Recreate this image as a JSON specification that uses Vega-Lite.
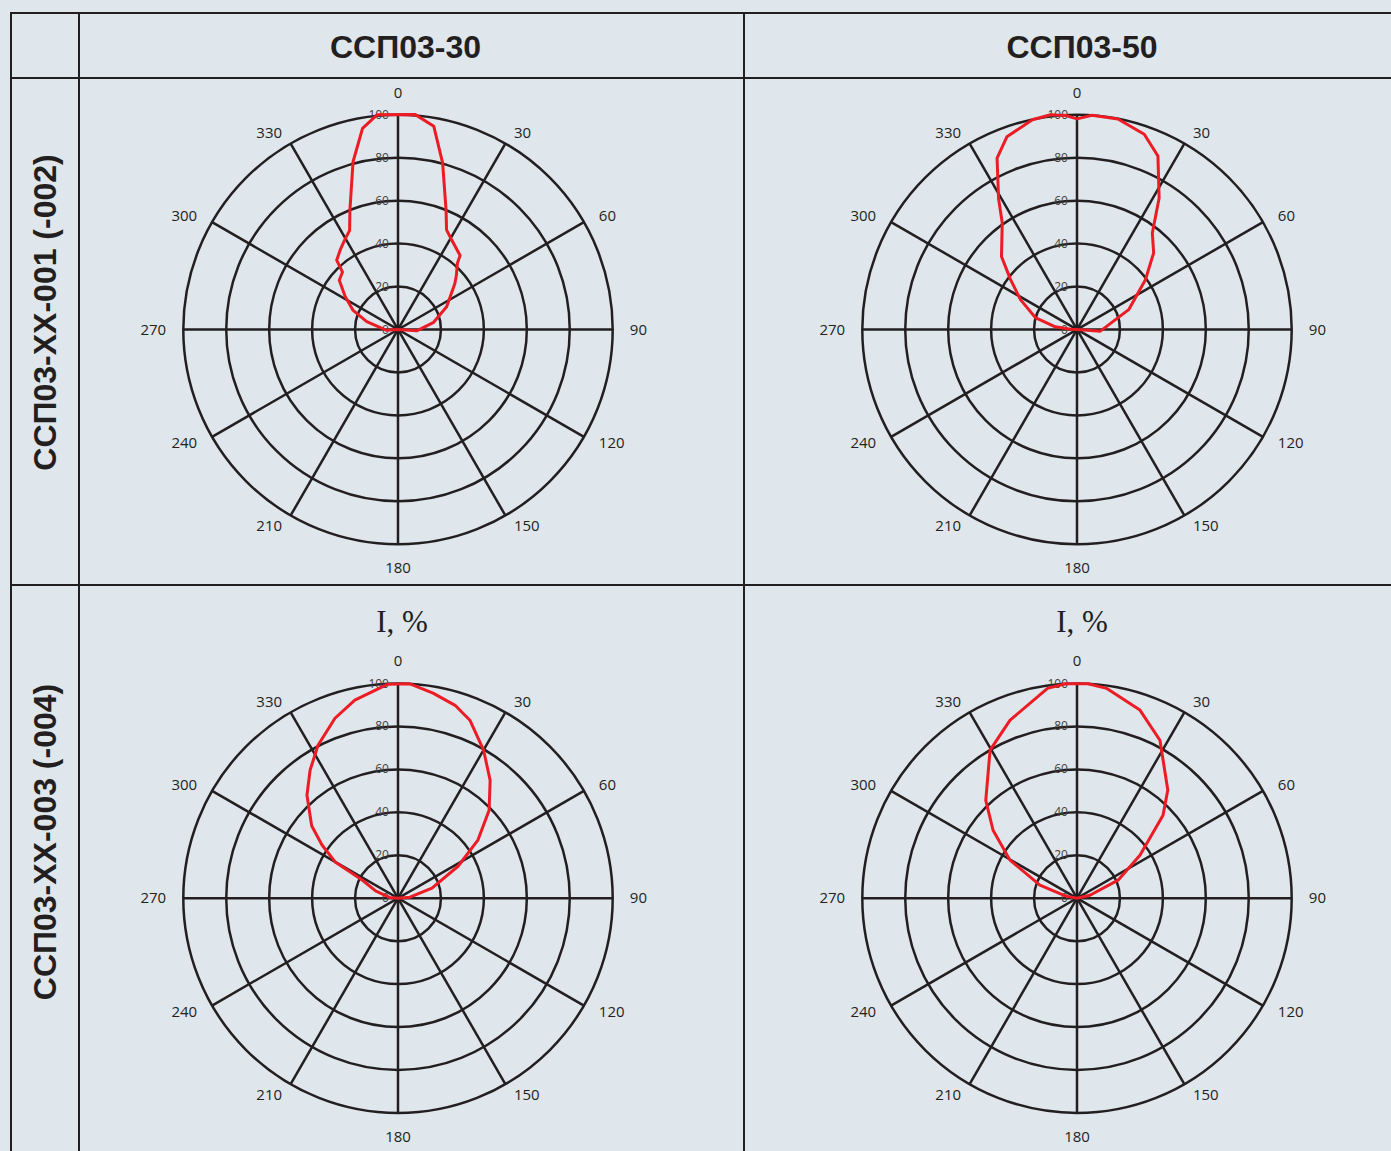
{
"$schema": "https://vega.github.io/schema/vega-lite/v6.json",
"background": "#dfe6ec",
"padding": {"left": 10, "top": 12, "right": 0, "bottom": 0},
"config": {"view": {"stroke": "#231f20", "strokeWidth": 2}},
"datasets": {
"cols": [{"col": "ССП03-30"}, {"col": "ССП03-50"}],
"rows": [{"row": "ССП03-XX-001 (-002)"}, {"row": "ССП03-XX-003 (-004)"}],
"unit": [{"label": "I, %"}],
"grid": [{"r": 0}, {"r": 20}, {"r": 40}, {"r": 60}, {"r": 80}, {"r": 100}],
"spokes": [{"a": 0}, {"a": 30}, {"a": 60}, {"a": 90}, {"a": 120}, {"a": 150}],
"angles": [{"a": 0}, {"a": 30}, {"a": 60}, {"a": 90}, {"a": 120}, {"a": 150}, {"a": 180}, {"a": 210}, {"a": 240}, {"a": 270}, {"a": 300}, {"a": 330}],
"curves": [
{"lamp": "ССП03-30", "optic": "001", "a": -180, "i": 0},
{"lamp": "ССП03-30", "optic": "001", "a": -94, "i": 5.3},
{"lamp": "ССП03-30", "optic": "001", "a": -76, "i": 15},
{"lamp": "ССП03-30", "optic": "001", "a": -67, "i": 22.7},
{"lamp": "ССП03-30", "optic": "001", "a": -58, "i": 29},
{"lamp": "ССП03-30", "optic": "001", "a": -50, "i": 35.7},
{"lamp": "ССП03-30", "optic": "001", "a": -44, "i": 37.2},
{"lamp": "ССП03-30", "optic": "001", "a": -41.5, "i": 43.1},
{"lamp": "ССП03-30", "optic": "001", "a": -36, "i": 45.8},
{"lamp": "ССП03-30", "optic": "001", "a": -31, "i": 48.4},
{"lamp": "ССП03-30", "optic": "001", "a": -26, "i": 51.4},
{"lamp": "ССП03-30", "optic": "001", "a": -22, "i": 59.8},
{"lamp": "ССП03-30", "optic": "001", "a": -15, "i": 80.9},
{"lamp": "ССП03-30", "optic": "001", "a": -10, "i": 95.1},
{"lamp": "ССП03-30", "optic": "001", "a": -5.5, "i": 100.5},
{"lamp": "ССП03-30", "optic": "001", "a": 4.5, "i": 100.5},
{"lamp": "ССП03-30", "optic": "001", "a": 10, "i": 96.1},
{"lamp": "ССП03-30", "optic": "001", "a": 15, "i": 80.3},
{"lamp": "ССП03-30", "optic": "001", "a": 22, "i": 59.8},
{"lamp": "ССП03-30", "optic": "001", "a": 26, "i": 51.6},
{"lamp": "ССП03-30", "optic": "001", "a": 31, "i": 48.6},
{"lamp": "ССП03-30", "optic": "001", "a": 40, "i": 45},
{"lamp": "ССП03-30", "optic": "001", "a": 42, "i": 41.3},
{"lamp": "ССП03-30", "optic": "001", "a": 47, "i": 37.2},
{"lamp": "ССП03-30", "optic": "001", "a": 51, "i": 34.1},
{"lamp": "ССП03-30", "optic": "001", "a": 65, "i": 25},
{"lamp": "ССП03-30", "optic": "001", "a": 79, "i": 16.7},
{"lamp": "ССП03-30", "optic": "001", "a": 94, "i": 8.7},
{"lamp": "ССП03-30", "optic": "001", "a": 180, "i": 0},
{"lamp": "ССП03-50", "optic": "001", "a": -180, "i": 0},
{"lamp": "ССП03-50", "optic": "001", "a": -88, "i": 3},
{"lamp": "ССП03-50", "optic": "001", "a": -83, "i": 10.2},
{"lamp": "ССП03-50", "optic": "001", "a": -74, "i": 20.2},
{"lamp": "ССП03-50", "optic": "001", "a": -62, "i": 29.9},
{"lamp": "ССП03-50", "optic": "001", "a": -53, "i": 38.8},
{"lamp": "ССП03-50", "optic": "001", "a": -46, "i": 48.9},
{"lamp": "ССП03-50", "optic": "001", "a": -35, "i": 60.7},
{"lamp": "ССП03-50", "optic": "001", "a": -31, "i": 70.9},
{"lamp": "ССП03-50", "optic": "001", "a": -25, "i": 88.1},
{"lamp": "ССП03-50", "optic": "001", "a": -20, "i": 95.5},
{"lamp": "ССП03-50", "optic": "001", "a": -12, "i": 99.9},
{"lamp": "ССП03-50", "optic": "001", "a": -7, "i": 100.8},
{"lamp": "ССП03-50", "optic": "001", "a": -3, "i": 99.8},
{"lamp": "ССП03-50", "optic": "001", "a": 0, "i": 98.1},
{"lamp": "ССП03-50", "optic": "001", "a": 4, "i": 100},
{"lamp": "ССП03-50", "optic": "001", "a": 11, "i": 99.9},
{"lamp": "ССП03-50", "optic": "001", "a": 19, "i": 96.2},
{"lamp": "ССП03-50", "optic": "001", "a": 25, "i": 89.2},
{"lamp": "ССП03-50", "optic": "001", "a": 32, "i": 72.2},
{"lamp": "ССП03-50", "optic": "001", "a": 38, "i": 57},
{"lamp": "ССП03-50", "optic": "001", "a": 45, "i": 50.5},
{"lamp": "ССП03-50", "optic": "001", "a": 54, "i": 39.4},
{"lamp": "ССП03-50", "optic": "001", "a": 69, "i": 25.8},
{"lamp": "ССП03-50", "optic": "001", "a": 94, "i": 10.9},
{"lamp": "ССП03-50", "optic": "001", "a": 180, "i": 0},
{"lamp": "ССП03-30", "optic": "003", "a": -180, "i": 0},
{"lamp": "ССП03-30", "optic": "003", "a": -85, "i": 4},
{"lamp": "ССП03-30", "optic": "003", "a": -72, "i": 11},
{"lamp": "ССП03-30", "optic": "003", "a": -63, "i": 18.7},
{"lamp": "ССП03-30", "optic": "003", "a": -60, "i": 33.8},
{"lamp": "ССП03-30", "optic": "003", "a": -55, "i": 43.2},
{"lamp": "ССП03-30", "optic": "003", "a": -50, "i": 52.5},
{"lamp": "ССП03-30", "optic": "003", "a": -41.5, "i": 64},
{"lamp": "ССП03-30", "optic": "003", "a": -34.5, "i": 72.3},
{"lamp": "ССП03-30", "optic": "003", "a": -27.6, "i": 80.4},
{"lamp": "ССП03-30", "optic": "003", "a": -19.3, "i": 88.8},
{"lamp": "ССП03-30", "optic": "003", "a": -12.3, "i": 94.4},
{"lamp": "ССП03-30", "optic": "003", "a": -2.7, "i": 99.8},
{"lamp": "ССП03-30", "optic": "003", "a": 3.2, "i": 100},
{"lamp": "ССП03-30", "optic": "003", "a": 9.7, "i": 96.9},
{"lamp": "ССП03-30", "optic": "003", "a": 16.5, "i": 93.7},
{"lamp": "ССП03-30", "optic": "003", "a": 22, "i": 89.4},
{"lamp": "ССП03-30", "optic": "003", "a": 30, "i": 79.7},
{"lamp": "ССП03-30", "optic": "003", "a": 38, "i": 69.7},
{"lamp": "ССП03-30", "optic": "003", "a": 46, "i": 59},
{"lamp": "ССП03-30", "optic": "003", "a": 54, "i": 46},
{"lamp": "ССП03-30", "optic": "003", "a": 62, "i": 31.7},
{"lamp": "ССП03-30", "optic": "003", "a": 73.6, "i": 16.5},
{"lamp": "ССП03-30", "optic": "003", "a": 85, "i": 5.6},
{"lamp": "ССП03-30", "optic": "003", "a": 180, "i": 0},
{"lamp": "ССП03-50", "optic": "003", "a": -180, "i": 0},
{"lamp": "ССП03-50", "optic": "003", "a": -80, "i": 5},
{"lamp": "ССП03-50", "optic": "003", "a": -70.6, "i": 18.3},
{"lamp": "ССП03-50", "optic": "003", "a": -60.4, "i": 35.9},
{"lamp": "ССП03-50", "optic": "003", "a": -51, "i": 50.3},
{"lamp": "ССП03-50", "optic": "003", "a": -43, "i": 62.3},
{"lamp": "ССП03-50", "optic": "003", "a": -30.4, "i": 80},
{"lamp": "ССП03-50", "optic": "003", "a": -20.6, "i": 88.6},
{"lamp": "ССП03-50", "optic": "003", "a": -8, "i": 98.7},
{"lamp": "ССП03-50", "optic": "003", "a": -3, "i": 100},
{"lamp": "ССП03-50", "optic": "003", "a": 3, "i": 100},
{"lamp": "ССП03-50", "optic": "003", "a": 8, "i": 98.7},
{"lamp": "ССП03-50", "optic": "003", "a": 18.5, "i": 92.4},
{"lamp": "ССП03-50", "optic": "003", "a": 27.7, "i": 83.1},
{"lamp": "ССП03-50", "optic": "003", "a": 40, "i": 65.8},
{"lamp": "ССП03-50", "optic": "003", "a": 46, "i": 55.7},
{"lamp": "ССП03-50", "optic": "003", "a": 55.7, "i": 35.5},
{"lamp": "ССП03-50", "optic": "003", "a": 66.3, "i": 20.9},
{"lamp": "ССП03-50", "optic": "003", "a": 77, "i": 6.2},
{"lamp": "ССП03-50", "optic": "003", "a": 180, "i": 0}
]
},
"columns": 3,
"spacing": 0,
"bounds": "flush",
"concat": [
 {"width": 68, "height": 65, "data": {"values": [{"t": ""}]}, "mark": "text",
  "encoding": {"x": {"datum": 0, "type": "quantitative", "scale": {"domain": [-1, 1]}, "axis": null}, "y": {"datum": 0, "type": "quantitative", "scale": {"domain": [-1, 1]}, "axis": null}, "text": {"field": "t"}}},
 {"width": 665, "height": 65, "data": {"name": "cols"}, "transform": [{"filter": "datum.col === 'ССП03-30'"}],
  "mark": {"type": "text", "font": "Liberation Sans", "fontSize": 32, "fontWeight": "bold", "color": "#231f20", "baseline": "middle", "dx": -6, "dy": 2},
  "encoding": {"x": {"datum": 0, "type": "quantitative", "scale": {"domain": [-1, 1]}, "axis": null}, "y": {"datum": 0, "type": "quantitative", "scale": {"domain": [-1, 1]}, "axis": null}, "text": {"field": "col"}}},
 {"width": 676, "height": 65, "data": {"name": "cols"}, "transform": [{"filter": "datum.col === 'ССП03-50'"}],
  "mark": {"type": "text", "font": "Liberation Sans", "fontSize": 32, "fontWeight": "bold", "color": "#231f20", "baseline": "middle", "dy": 2},
  "encoding": {"x": {"datum": 0, "type": "quantitative", "scale": {"domain": [-1, 1]}, "axis": null}, "y": {"datum": 0, "type": "quantitative", "scale": {"domain": [-1, 1]}, "axis": null}, "text": {"field": "col"}}},
 {"width": 68, "height": 507, "data": {"name": "rows"}, "transform": [{"filter": "datum.row === 'ССП03-XX-001 (-002)'"}],
  "mark": {"type": "text", "font": "Liberation Sans", "fontSize": 32, "fontWeight": "bold", "color": "#231f20", "baseline": "middle", "angle": 270, "dx": 19, "dy": 1},
  "encoding": {"x": {"datum": 0, "type": "quantitative", "scale": {"domain": [-1, 1]}, "axis": null}, "y": {"datum": 0, "type": "quantitative", "scale": {"domain": [-1, 1]}, "axis": null}, "text": {"field": "row"}}},
 {"width": 665, "height": 507, "layer": [
  {"data": {"name": "grid"}, "transform": [{"filter": "datum.r > 0"}],
   "mark": {"type": "arc", "theta": 0, "theta2": 6.2832, "filled": false, "stroke": "#231f20", "strokeWidth": 2.5},
   "encoding": {"x": {"datum": 0, "type": "quantitative", "scale": {"domain": [-148.58, 161.16], "nice": false, "zero": false}, "axis": null},
    "y": {"datum": 0, "type": "quantitative", "scale": {"domain": [-119.0, 117.14], "nice": false, "zero": false}, "axis": null},
    "radius": {"field": "r", "type": "quantitative", "stack": null, "scale": {"type": "linear", "domain": [0, 100], "range": [0, 214.7], "zero": true}}}},
  {"data": {"name": "spokes"}, "transform": [{"calculate": "100 * sin(datum.a * PI / 180)", "as": "x"}, {"calculate": "100 * cos(datum.a * PI / 180)", "as": "y"}, {"calculate": "-datum.x", "as": "x2"}, {"calculate": "-datum.y", "as": "y2"}],
   "mark": {"type": "rule", "stroke": "#231f20", "strokeWidth": 2.5},
   "encoding": {"x": {"field": "x", "type": "quantitative", "scale": {"domain": [-148.58, 161.16], "nice": false, "zero": false}, "axis": null},
    "y": {"field": "y", "type": "quantitative", "scale": {"domain": [-119.0, 117.14], "nice": false, "zero": false}, "axis": null},
    "x2": {"field": "x2"}, "y2": {"field": "y2"}}},
  {"data": {"name": "grid"},
   "mark": {"type": "text", "align": "right", "baseline": "middle", "dx": -9, "font": "Open Sans", "fontSize": 12, "color": "#404040"},
   "encoding": {"x": {"datum": 0, "type": "quantitative", "scale": {"domain": [-148.58, 161.16], "nice": false, "zero": false}, "axis": null},
    "y": {"field": "r", "type": "quantitative", "scale": {"domain": [-119.0, 117.14], "nice": false, "zero": false}, "axis": null},
    "text": {"field": "r", "type": "quantitative"}}},
  {"data": {"name": "angles"},
   "mark": {"type": "text", "align": {"expr": "datum.a % 180 == 0 ? 'center' : (datum.a < 180 ? 'left' : 'right')"}, "baseline": {"expr": "datum.a == 0 ? 'alphabetic' : (datum.a == 180 ? 'top' : 'middle')"}, "dy": {"expr": "11.7 * abs(sin(datum.a * PI / 180)) * cos(datum.a * PI / 180) * abs(cos(datum.a * PI / 180))"}, "font": "Open Sans", "fontSize": 15, "color": "#231f20"},
   "encoding": {"x": {"datum": 0, "type": "quantitative", "scale": {"domain": [-148.58, 161.16], "nice": false, "zero": false}, "axis": null},
    "y": {"datum": 0, "type": "quantitative", "scale": {"domain": [-119.0, 117.14], "nice": false, "zero": false}, "axis": null},
    "theta": {"field": "a", "type": "quantitative", "stack": null, "scale": {"type": "linear", "domain": [0, 360], "range": [0, 6.283185307179586]}},
    "radius": {"datum": 108, "type": "quantitative", "stack": null},
    "text": {"field": "a", "type": "quantitative"}}},
  {"data": {"name": "curves"}, "transform": [{"filter": "datum.lamp === 'ССП03-30' && datum.optic === '001'"}, {"calculate": "datum.i * sin(datum.a * PI / 180)", "as": "x"}, {"calculate": "datum.i * cos(datum.a * PI / 180)", "as": "y"}],
   "mark": {"type": "line", "color": "#ed1c24", "strokeWidth": 3, "strokeJoin": "round"},
   "encoding": {"x": {"field": "x", "type": "quantitative", "scale": {"domain": [-148.58, 161.16], "nice": false, "zero": false}, "axis": null},
    "y": {"field": "y", "type": "quantitative", "scale": {"domain": [-119.0, 117.14], "nice": false, "zero": false}, "axis": null},
    "order": {"field": "a", "type": "quantitative"}}}
 ]},
 {"width": 676, "height": 507, "layer": [
  {"data": {"name": "grid"}, "transform": [{"filter": "datum.r > 0"}],
   "mark": {"type": "arc", "theta": 0, "theta2": 6.2832, "filled": false, "stroke": "#231f20", "strokeWidth": 2.5},
   "encoding": {"x": {"datum": 0, "type": "quantitative", "scale": {"domain": [-155.10, 159.76], "nice": false, "zero": false}, "axis": null},
    "y": {"datum": 0, "type": "quantitative", "scale": {"domain": [-119.0, 117.14], "nice": false, "zero": false}, "axis": null},
    "radius": {"field": "r", "type": "quantitative", "stack": null, "scale": {"type": "linear", "domain": [0, 100], "range": [0, 214.7], "zero": true}}}},
  {"data": {"name": "spokes"}, "transform": [{"calculate": "100 * sin(datum.a * PI / 180)", "as": "x"}, {"calculate": "100 * cos(datum.a * PI / 180)", "as": "y"}, {"calculate": "-datum.x", "as": "x2"}, {"calculate": "-datum.y", "as": "y2"}],
   "mark": {"type": "rule", "stroke": "#231f20", "strokeWidth": 2.5},
   "encoding": {"x": {"field": "x", "type": "quantitative", "scale": {"domain": [-155.10, 159.76], "nice": false, "zero": false}, "axis": null},
    "y": {"field": "y", "type": "quantitative", "scale": {"domain": [-119.0, 117.14], "nice": false, "zero": false}, "axis": null},
    "x2": {"field": "x2"}, "y2": {"field": "y2"}}},
  {"data": {"name": "grid"},
   "mark": {"type": "text", "align": "right", "baseline": "middle", "dx": -9, "font": "Open Sans", "fontSize": 12, "color": "#404040"},
   "encoding": {"x": {"datum": 0, "type": "quantitative", "scale": {"domain": [-155.10, 159.76], "nice": false, "zero": false}, "axis": null},
    "y": {"field": "r", "type": "quantitative", "scale": {"domain": [-119.0, 117.14], "nice": false, "zero": false}, "axis": null},
    "text": {"field": "r", "type": "quantitative"}}},
  {"data": {"name": "angles"},
   "mark": {"type": "text", "align": {"expr": "datum.a % 180 == 0 ? 'center' : (datum.a < 180 ? 'left' : 'right')"}, "baseline": {"expr": "datum.a == 0 ? 'alphabetic' : (datum.a == 180 ? 'top' : 'middle')"}, "dy": {"expr": "11.7 * abs(sin(datum.a * PI / 180)) * cos(datum.a * PI / 180) * abs(cos(datum.a * PI / 180))"}, "font": "Open Sans", "fontSize": 15, "color": "#231f20"},
   "encoding": {"x": {"datum": 0, "type": "quantitative", "scale": {"domain": [-155.10, 159.76], "nice": false, "zero": false}, "axis": null},
    "y": {"datum": 0, "type": "quantitative", "scale": {"domain": [-119.0, 117.14], "nice": false, "zero": false}, "axis": null},
    "theta": {"field": "a", "type": "quantitative", "stack": null, "scale": {"type": "linear", "domain": [0, 360], "range": [0, 6.283185307179586]}},
    "radius": {"datum": 108, "type": "quantitative", "stack": null},
    "text": {"field": "a", "type": "quantitative"}}},
  {"data": {"name": "curves"}, "transform": [{"filter": "datum.lamp === 'ССП03-50' && datum.optic === '001'"}, {"calculate": "datum.i * sin(datum.a * PI / 180)", "as": "x"}, {"calculate": "datum.i * cos(datum.a * PI / 180)", "as": "y"}],
   "mark": {"type": "line", "color": "#ed1c24", "strokeWidth": 3, "strokeJoin": "round"},
   "encoding": {"x": {"field": "x", "type": "quantitative", "scale": {"domain": [-155.10, 159.76], "nice": false, "zero": false}, "axis": null},
    "y": {"field": "y", "type": "quantitative", "scale": {"domain": [-119.0, 117.14], "nice": false, "zero": false}, "axis": null},
    "order": {"field": "a", "type": "quantitative"}}}
 ]},
 {"width": 68, "height": 620, "data": {"name": "rows"}, "transform": [{"filter": "datum.row === 'ССП03-XX-003 (-004)'"}],
  "mark": {"type": "text", "font": "Liberation Sans", "fontSize": 32, "fontWeight": "bold", "color": "#231f20", "baseline": "middle", "angle": 270, "dx": 53, "dy": 1},
  "encoding": {"x": {"datum": 0, "type": "quantitative", "scale": {"domain": [-1, 1]}, "axis": null}, "y": {"datum": 0, "type": "quantitative", "scale": {"domain": [-1, 1]}, "axis": null}, "text": {"field": "row"}}},
 {"width": 665, "height": 620, "layer": [
  {"data": {"name": "grid"}, "transform": [{"filter": "datum.r > 0"}],
   "mark": {"type": "arc", "theta": 0, "theta2": 6.2832, "filled": false, "stroke": "#231f20", "strokeWidth": 2.5},
   "encoding": {"x": {"datum": 0, "type": "quantitative", "scale": {"domain": [-148.58, 161.16], "nice": false, "zero": false}, "axis": null},
    "y": {"datum": 0, "type": "quantitative", "scale": {"domain": [-142.9, 145.88], "nice": false, "zero": false}, "axis": null},
    "radius": {"field": "r", "type": "quantitative", "stack": null, "scale": {"type": "linear", "domain": [0, 100], "range": [0, 214.7], "zero": true}}}},
  {"data": {"name": "spokes"}, "transform": [{"calculate": "100 * sin(datum.a * PI / 180)", "as": "x"}, {"calculate": "100 * cos(datum.a * PI / 180)", "as": "y"}, {"calculate": "-datum.x", "as": "x2"}, {"calculate": "-datum.y", "as": "y2"}],
   "mark": {"type": "rule", "stroke": "#231f20", "strokeWidth": 2.5},
   "encoding": {"x": {"field": "x", "type": "quantitative", "scale": {"domain": [-148.58, 161.16], "nice": false, "zero": false}, "axis": null},
    "y": {"field": "y", "type": "quantitative", "scale": {"domain": [-142.9, 145.88], "nice": false, "zero": false}, "axis": null},
    "x2": {"field": "x2"}, "y2": {"field": "y2"}}},
  {"data": {"name": "grid"},
   "mark": {"type": "text", "align": "right", "baseline": "middle", "dx": -9, "font": "Open Sans", "fontSize": 12, "color": "#404040"},
   "encoding": {"x": {"datum": 0, "type": "quantitative", "scale": {"domain": [-148.58, 161.16], "nice": false, "zero": false}, "axis": null},
    "y": {"field": "r", "type": "quantitative", "scale": {"domain": [-142.9, 145.88], "nice": false, "zero": false}, "axis": null},
    "text": {"field": "r", "type": "quantitative"}}},
  {"data": {"name": "angles"},
   "mark": {"type": "text", "align": {"expr": "datum.a % 180 == 0 ? 'center' : (datum.a < 180 ? 'left' : 'right')"}, "baseline": {"expr": "datum.a == 0 ? 'alphabetic' : (datum.a == 180 ? 'top' : 'middle')"}, "dy": {"expr": "11.7 * abs(sin(datum.a * PI / 180)) * cos(datum.a * PI / 180) * abs(cos(datum.a * PI / 180))"}, "font": "Open Sans", "fontSize": 15, "color": "#231f20"},
   "encoding": {"x": {"datum": 0, "type": "quantitative", "scale": {"domain": [-148.58, 161.16], "nice": false, "zero": false}, "axis": null},
    "y": {"datum": 0, "type": "quantitative", "scale": {"domain": [-142.9, 145.88], "nice": false, "zero": false}, "axis": null},
    "theta": {"field": "a", "type": "quantitative", "stack": null, "scale": {"type": "linear", "domain": [0, 360], "range": [0, 6.283185307179586]}},
    "radius": {"datum": 108, "type": "quantitative", "stack": null},
    "text": {"field": "a", "type": "quantitative"}}},
  {"data": {"name": "unit"},
   "mark": {"type": "text", "align": "center", "baseline": "middle", "font": "Liberation Serif", "fontSize": 31, "color": "#231f20", "dx": 4, "dy": 1},
   "encoding": {"x": {"datum": 0, "type": "quantitative", "scale": {"domain": [-148.58, 161.16], "nice": false, "zero": false}, "axis": null},
    "y": {"datum": 128.5, "type": "quantitative", "scale": {"domain": [-142.9, 145.88], "nice": false, "zero": false}, "axis": null},
    "text": {"field": "label"}}},
  {"data": {"name": "curves"}, "transform": [{"filter": "datum.lamp === 'ССП03-30' && datum.optic === '003'"}, {"calculate": "datum.i * sin(datum.a * PI / 180)", "as": "x"}, {"calculate": "datum.i * cos(datum.a * PI / 180)", "as": "y"}],
   "mark": {"type": "line", "color": "#ed1c24", "strokeWidth": 3, "strokeJoin": "round"},
   "encoding": {"x": {"field": "x", "type": "quantitative", "scale": {"domain": [-148.58, 161.16], "nice": false, "zero": false}, "axis": null},
    "y": {"field": "y", "type": "quantitative", "scale": {"domain": [-142.9, 145.88], "nice": false, "zero": false}, "axis": null},
    "order": {"field": "a", "type": "quantitative"}}}
 ]},
 {"width": 676, "height": 620, "layer": [
  {"data": {"name": "grid"}, "transform": [{"filter": "datum.r > 0"}],
   "mark": {"type": "arc", "theta": 0, "theta2": 6.2832, "filled": false, "stroke": "#231f20", "strokeWidth": 2.5},
   "encoding": {"x": {"datum": 0, "type": "quantitative", "scale": {"domain": [-155.10, 159.76], "nice": false, "zero": false}, "axis": null},
    "y": {"datum": 0, "type": "quantitative", "scale": {"domain": [-142.9, 145.88], "nice": false, "zero": false}, "axis": null},
    "radius": {"field": "r", "type": "quantitative", "stack": null, "scale": {"type": "linear", "domain": [0, 100], "range": [0, 214.7], "zero": true}}}},
  {"data": {"name": "spokes"}, "transform": [{"calculate": "100 * sin(datum.a * PI / 180)", "as": "x"}, {"calculate": "100 * cos(datum.a * PI / 180)", "as": "y"}, {"calculate": "-datum.x", "as": "x2"}, {"calculate": "-datum.y", "as": "y2"}],
   "mark": {"type": "rule", "stroke": "#231f20", "strokeWidth": 2.5},
   "encoding": {"x": {"field": "x", "type": "quantitative", "scale": {"domain": [-155.10, 159.76], "nice": false, "zero": false}, "axis": null},
    "y": {"field": "y", "type": "quantitative", "scale": {"domain": [-142.9, 145.88], "nice": false, "zero": false}, "axis": null},
    "x2": {"field": "x2"}, "y2": {"field": "y2"}}},
  {"data": {"name": "grid"},
   "mark": {"type": "text", "align": "right", "baseline": "middle", "dx": -9, "font": "Open Sans", "fontSize": 12, "color": "#404040"},
   "encoding": {"x": {"datum": 0, "type": "quantitative", "scale": {"domain": [-155.10, 159.76], "nice": false, "zero": false}, "axis": null},
    "y": {"field": "r", "type": "quantitative", "scale": {"domain": [-142.9, 145.88], "nice": false, "zero": false}, "axis": null},
    "text": {"field": "r", "type": "quantitative"}}},
  {"data": {"name": "angles"},
   "mark": {"type": "text", "align": {"expr": "datum.a % 180 == 0 ? 'center' : (datum.a < 180 ? 'left' : 'right')"}, "baseline": {"expr": "datum.a == 0 ? 'alphabetic' : (datum.a == 180 ? 'top' : 'middle')"}, "dy": {"expr": "11.7 * abs(sin(datum.a * PI / 180)) * cos(datum.a * PI / 180) * abs(cos(datum.a * PI / 180))"}, "font": "Open Sans", "fontSize": 15, "color": "#231f20"},
   "encoding": {"x": {"datum": 0, "type": "quantitative", "scale": {"domain": [-155.10, 159.76], "nice": false, "zero": false}, "axis": null},
    "y": {"datum": 0, "type": "quantitative", "scale": {"domain": [-142.9, 145.88], "nice": false, "zero": false}, "axis": null},
    "theta": {"field": "a", "type": "quantitative", "stack": null, "scale": {"type": "linear", "domain": [0, 360], "range": [0, 6.283185307179586]}},
    "radius": {"datum": 108, "type": "quantitative", "stack": null},
    "text": {"field": "a", "type": "quantitative"}}},
  {"data": {"name": "unit"},
   "mark": {"type": "text", "align": "center", "baseline": "middle", "font": "Liberation Serif", "fontSize": 31, "color": "#231f20", "dx": 5, "dy": 1},
   "encoding": {"x": {"datum": 0, "type": "quantitative", "scale": {"domain": [-155.10, 159.76], "nice": false, "zero": false}, "axis": null},
    "y": {"datum": 128.5, "type": "quantitative", "scale": {"domain": [-142.9, 145.88], "nice": false, "zero": false}, "axis": null},
    "text": {"field": "label"}}},
  {"data": {"name": "curves"}, "transform": [{"filter": "datum.lamp === 'ССП03-50' && datum.optic === '003'"}, {"calculate": "datum.i * sin(datum.a * PI / 180)", "as": "x"}, {"calculate": "datum.i * cos(datum.a * PI / 180)", "as": "y"}],
   "mark": {"type": "line", "color": "#ed1c24", "strokeWidth": 3, "strokeJoin": "round"},
   "encoding": {"x": {"field": "x", "type": "quantitative", "scale": {"domain": [-155.10, 159.76], "nice": false, "zero": false}, "axis": null},
    "y": {"field": "y", "type": "quantitative", "scale": {"domain": [-142.9, 145.88], "nice": false, "zero": false}, "axis": null},
    "order": {"field": "a", "type": "quantitative"}}}
 ]}
]
}
